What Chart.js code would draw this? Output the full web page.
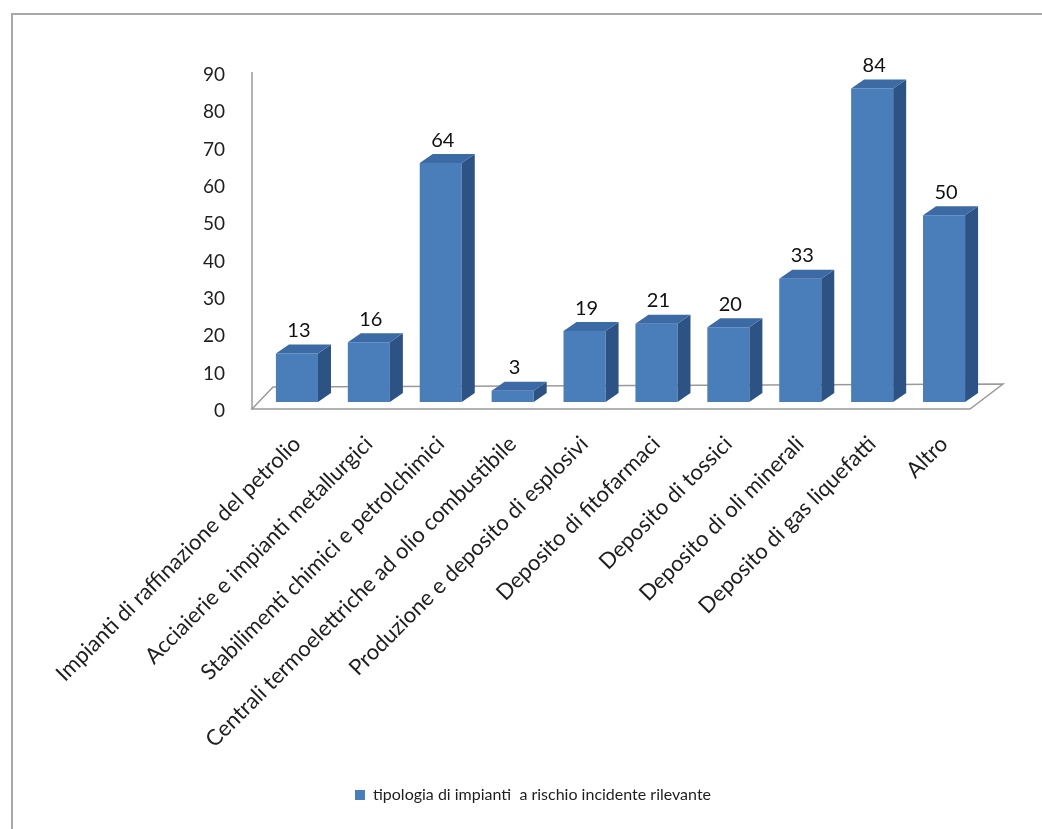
<!DOCTYPE html>
<html>
<head>
<meta charset="utf-8">
<script src="https://cdn.jsdelivr.net/npm/chart.js@4.4.0/dist/chart.umd.min.js"></script>
<style>
    html, body { margin: 0; padding: 0; background: #fff; overflow: hidden; }
    #frame { position: absolute; left: 11px; top: 13px; width: 1100px; height: 900px; border: 2px solid #a8a8a8; }
    #wrap { position: absolute; left: 0; top: 0; width: 1042px; height: 829px; }
</style>
</head>
<body>
<div id="frame"></div>
<div id="wrap"><canvas id="riskChart" width="1042" height="829"></canvas></div>
<script>
// data
const categories = [
    "Impianti di raffinazione del petrolio",
    "Acciaierie e impianti metallurgici",
    "Stabilimenti chimici e petrolchimici",
    "Centrali termoelettriche ad olio combustibile",
    "Produzione e deposito di esplosivi",
    "Deposito di fitofarmaci",
    "Deposito di tossici",
    "Deposito di oli minerali",
    "Deposito di gas liquefatti",
    "Altro"
];
const plantCounts = [13, 16, 64, 3, 19, 21, 20, 33, 84, 50];
const yTicks = [0, 10, 20, 30, 40, 50, 60, 70, 80, 90];
const seriesName = "tipologia di impianti  a rischio incidente rilevante";

const frontColor = "#4a7ebb";
const sideColor = "#2d5384";
const topColor = "#3c6aa5";
const depthX = 13, depthY = 9;

const bar3d = {
    id: "bar3d",
    beforeDatasetsDraw(chart) {
        const ctx = chart.ctx;
        const area = chart.chartArea;
        const ys = chart.scales.y;
        const fl = area.left - 9, fr = area.right - 10, fy = area.bottom - 2;
        ctx.save();
        // floor
        ctx.beginPath();
        ctx.moveTo(fl, fy);
        ctx.lineTo(fr, fy);
        ctx.lineTo(fr + 33, fy - 25);
        ctx.lineTo(fl + 21, fy - 22);
        ctx.closePath();
        ctx.fillStyle = "#ffffff";
        ctx.fill();
        ctx.strokeStyle = "#9a9a9a";
        ctx.lineWidth = 1.5;
        ctx.stroke();
        // vertical axis line
        ctx.beginPath();
        ctx.moveTo(fl, ys.getPixelForValue(90) - 3);
        ctx.lineTo(fl, fy);
        ctx.stroke();
        ctx.restore();
    },
    afterDatasetsDraw(chart) {
        const ctx = chart.ctx;
        const meta = chart.getDatasetMeta(0);
        ctx.save();
        meta.data.forEach((el, i) => {
            const p = el.getProps(["x", "y", "base", "width"], true);
            const l = p.x - p.width / 2, r = p.x + p.width / 2;
            // side face
            ctx.beginPath();
            ctx.moveTo(r, p.y);
            ctx.lineTo(r + depthX, p.y - depthY);
            ctx.lineTo(r + depthX, p.base - depthY);
            ctx.lineTo(r, p.base);
            ctx.closePath();
            ctx.fillStyle = sideColor;
            ctx.fill();
            // top face
            ctx.beginPath();
            ctx.moveTo(l, p.y);
            ctx.lineTo(r, p.y);
            ctx.lineTo(r + depthX, p.y - depthY);
            ctx.lineTo(l + depthX, p.y - depthY);
            ctx.closePath();
            ctx.fillStyle = topColor;
            ctx.fill();
            // value label
            ctx.fillStyle = "#111";
            ctx.font = "20px Lato";
            ctx.textAlign = "center";
            ctx.textBaseline = "middle";
            ctx.fillText(String(plantCounts[i]), p.x + 2, p.y - 23);
        });
        ctx.restore();
    }
};

const ctx = document.getElementById("riskChart").getContext("2d");

new Chart(ctx, {
    type: "bar",
    data: {
        labels: categories,
        datasets: [{
            label: seriesName,
            data: plantCounts,
            backgroundColor: frontColor,
            borderWidth: 0,
            yAxisID: "yb",
            categoryPercentage: 1,
            barPercentage: 0.585
        }]
    },
    options: {
        responsive: false,
        animation: false,
        layout: { padding: { left: 24, right: 0, top: 75, bottom: 16 } },
        scales: {
            x: {
                grid: { display: false },
                border: { display: false },
                ticks: {
                    autoSkip: false,
                    maxRotation: 45,
                    minRotation: 45,
                    padding: 12,
                    color: "#1e1e1e",
                    font: { family: "Lato", size: 22 }
                },
                afterFit(scale) { scale.height = 366; }
            },
            y: {
                position: "left",
                min: 0,
                max: 90,
                afterBuildTicks(scale) { scale.ticks = yTicks.map(v => ({ value: v })); },
                grid: { display: false, drawTicks: false },
                border: { display: false },
                ticks: {
                    padding: 36,
                    color: "#1e1e1e",
                    font: { family: "Lato", size: 19 }
                },
                afterFit(scale) { scale.width = 237; }
            },
            yb: {
                display: false,
                min: -2.4,
                max: 87.6
            },
            yr: {
                position: "right",
                min: 0,
                max: 1,
                grid: { display: false },
                border: { display: false },
                ticks: { display: false },
                afterFit(scale) { scale.width = 62; }
            }
        },
        plugins: {
            legend: {
                position: "bottom",
                labels: {
                    boxWidth: 10,
                    boxHeight: 10,
                    padding: 10,
                    color: "#1e1e1e",
                    font: { family: "Lato", size: 16 }
                }
            },
            tooltip: { enabled: false }
        }
    },
    plugins: [bar3d]
});
</script>
</body>
</html>
